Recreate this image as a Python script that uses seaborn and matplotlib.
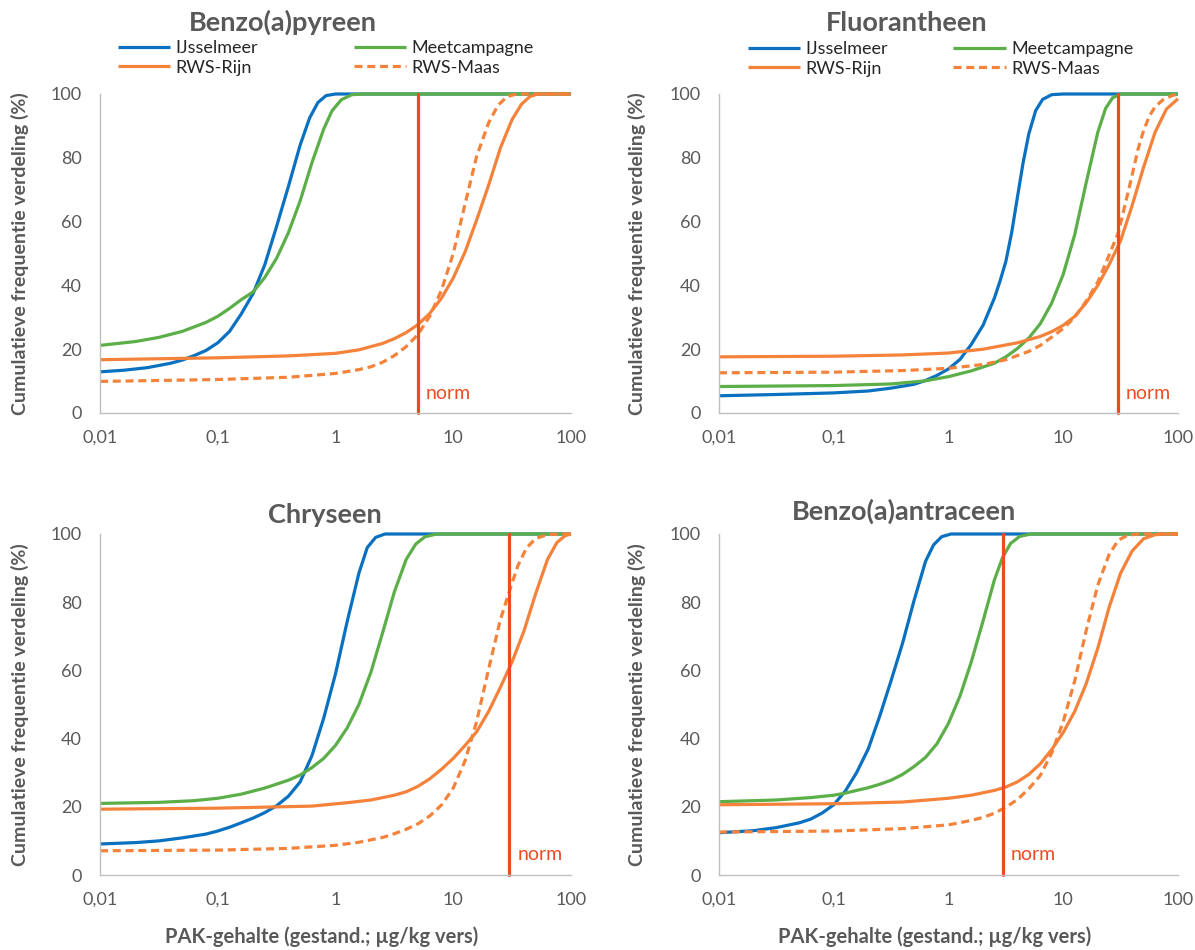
import pandas as pd
import matplotlib
matplotlib.use("Agg")
import matplotlib.pyplot as plt
from matplotlib.ticker import FixedLocator, FixedFormatter, NullLocator
import seaborn as sns

# titels, normen en reeksen
stoffen = ["Benzo(a)pyreen", "Fluorantheen", "Chryseen", "Benzo(a)antraceen"]
normen = [5, 30, 30, 3]
reeksen = ["IJsselmeer", "Meetcampagne", "RWS-Rijn", "RWS-Maas"]
x_ticks = [0.01, 0.1, 1, 10, 100]
x_tick_labels = ["0,01", "0,1", "1", "10", "100"]
y_ticks = [0, 20, 40, 60, 80, 100]

# Benzo(a)pyreen
bap_ijssel_x = [0.01, 0.0158, 0.0251, 0.0398, 0.0501, 0.0631, 0.0794, 0.1, 0.126, 0.158, 0.2, 0.251, 0.316, 0.398, 0.501, 0.603, 0.708, 0.832, 1.0, 100]
bap_ijssel_y = [12.9, 13.4, 14.2, 15.6, 16.6, 18.0, 19.6, 22.0, 25.6, 31.0, 37.5, 46.5, 58.5, 71.0, 84.0, 92.5, 97.3, 99.5, 100, 100]
bap_meet_x = [0.01, 0.02, 0.0316, 0.0501, 0.0794, 0.1, 0.126, 0.158, 0.2, 0.251, 0.316, 0.398, 0.501, 0.631, 0.794, 0.933, 1.12, 1.38, 1.78, 100]
bap_meet_y = [21.2, 22.4, 23.7, 25.6, 28.4, 30.3, 32.8, 35.5, 38.0, 42.5, 48.5, 56.5, 66.5, 78.5, 89.0, 94.7, 98.2, 99.8, 100, 100]
bap_rijn_x = [0.01, 0.1, 0.398, 1.0, 1.58, 2.51, 3.16, 3.98, 5.01, 6.31, 7.94, 10, 12.6, 15.8, 20.0, 25.1, 31.6, 38.0, 44.7, 52.5, 100]
bap_rijn_y = [16.7, 17.3, 17.9, 18.7, 19.8, 21.8, 23.3, 25.2, 27.7, 31.2, 36.0, 42.3, 50.5, 60.5, 71.5, 83.0, 92.0, 96.8, 99.2, 100, 100]
bap_maas_x = [0.01, 0.1, 0.398, 1.0, 1.58, 2.0, 2.51, 3.16, 3.98, 5.01, 6.31, 7.94, 10, 12.6, 15.8, 20.0, 24.0, 28.8, 34.7, 100]
bap_maas_y = [9.9, 10.5, 11.2, 12.4, 13.6, 14.5, 15.9, 18.0, 20.8, 24.6, 30.3, 38.5, 50.0, 65.5, 80.5, 91.0, 96.5, 99.2, 100, 100]

# Fluorantheen
fla_ijssel_x = [0.01, 0.0316, 0.1, 0.2, 0.316, 0.501, 0.631, 0.794, 1.0, 1.26, 1.58, 2.0, 2.51, 2.82, 3.16, 3.55, 3.98, 4.47, 5.01, 5.75, 6.61, 7.94, 10, 100]
fla_ijssel_y = [5.4, 5.8, 6.3, 6.9, 7.8, 9.0, 10.2, 11.8, 13.8, 16.8, 21.5, 27.5, 36.0, 41.5, 47.5, 56.5, 67.5, 78.5, 87.5, 94.8, 98.3, 99.8, 100, 100]
fla_meet_x = [0.01, 0.1, 0.316, 0.631, 1.0, 1.58, 2.51, 3.16, 3.98, 5.01, 6.31, 7.94, 10, 12.6, 15.8, 20.0, 23.4, 26.9, 31.6, 100]
fla_meet_y = [8.3, 8.6, 9.1, 10.1, 11.4, 13.2, 15.6, 17.6, 20.2, 23.5, 28.0, 34.5, 43.5, 56.0, 72.0, 88.0, 95.5, 98.8, 100, 100]
fla_rijn_x = [0.01, 0.1, 0.398, 1.0, 2.0, 3.98, 6.31, 7.94, 10, 12.6, 15.8, 20.0, 25.1, 31.6, 39.8, 50.1, 63.1, 79.4, 100]
fla_rijn_y = [17.6, 17.8, 18.2, 18.8, 20.0, 22.0, 24.0, 25.5, 27.5, 30.3, 34.5, 40.0, 46.5, 54.0, 65.0, 77.0, 88.0, 95.3, 98.5]
fla_maas_x = [0.01, 0.1, 0.398, 1.0, 2.0, 3.16, 5.01, 6.31, 7.94, 10, 12.6, 15.8, 20.0, 25.1, 30.2, 35.5, 39.8, 44.7, 50.1, 56.2, 63.1, 74.1, 89.1, 100]
fla_maas_y = [12.6, 12.8, 13.3, 14.0, 15.2, 16.7, 19.3, 21.2, 23.8, 26.5, 30.0, 35.0, 41.0, 49.5, 56.5, 67.0, 74.5, 82.5, 88.5, 93.0, 96.0, 98.2, 99.5, 100]

# Chryseen
chr_ijssel_x = [0.01, 0.02, 0.0316, 0.0501, 0.0794, 0.1, 0.126, 0.158, 0.2, 0.251, 0.316, 0.398, 0.501, 0.631, 0.794, 1.0, 1.26, 1.58, 1.86, 2.19, 2.63, 100]
chr_ijssel_y = [9.1, 9.5, 10.0, 10.9, 12.0, 12.9, 14.0, 15.3, 16.7, 18.3, 20.3, 23.1, 27.3, 35.0, 46.0, 59.0, 74.5, 88.5, 96.0, 99.0, 100, 100]
chr_meet_x = [0.01, 0.0316, 0.0631, 0.1, 0.158, 0.251, 0.398, 0.501, 0.631, 0.794, 1.0, 1.26, 1.58, 2.0, 2.51, 3.16, 3.98, 4.79, 5.75, 7.24, 100]
chr_meet_y = [21.0, 21.3, 21.8, 22.5, 23.7, 25.5, 27.8, 29.3, 31.5, 34.2, 38.0, 43.2, 50.0, 59.5, 71.0, 83.0, 92.5, 97.0, 99.2, 100, 100]
chr_rijn_x = [0.01, 0.1, 0.631, 1.26, 2.0, 3.16, 3.98, 5.01, 6.31, 7.94, 10, 12.6, 15.8, 20.0, 25.1, 31.6, 39.8, 50.1, 63.1, 75.9, 89.1, 100]
chr_rijn_y = [19.3, 19.6, 20.2, 21.2, 22.0, 23.4, 24.4, 26.0, 28.2, 31.0, 34.2, 38.0, 42.0, 48.0, 55.0, 62.5, 71.5, 82.5, 92.5, 97.5, 99.5, 100]
chr_maas_x = [0.01, 0.1, 0.398, 1.0, 1.58, 2.51, 3.16, 3.98, 5.01, 6.31, 7.94, 10, 12.6, 15.8, 20.0, 25.1, 30.2, 35.5, 41.7, 50.1, 63.1, 79.4, 100]
chr_maas_y = [7.1, 7.3, 7.8, 8.7, 9.6, 11.0, 12.1, 13.4, 15.0, 17.3, 20.5, 25.5, 33.5, 45.0, 60.5, 74.8, 83.6, 90.8, 95.8, 98.7, 99.8, 100, 100]

# Benzo(a)antraceen
baa_ijssel_x = [0.01, 0.02, 0.0316, 0.0501, 0.0631, 0.0794, 0.1, 0.126, 0.158, 0.2, 0.251, 0.316, 0.398, 0.501, 0.631, 0.741, 0.871, 1.05, 100]
baa_ijssel_y = [12.4, 13.0, 13.9, 15.3, 16.4, 18.2, 20.6, 24.6, 30.0, 37.0, 46.5, 57.0, 68.0, 80.5, 92.0, 96.8, 99.2, 100, 100]
baa_meet_x = [0.01, 0.0316, 0.0631, 0.1, 0.126, 0.158, 0.2, 0.251, 0.316, 0.398, 0.501, 0.631, 0.794, 1.0, 1.26, 1.58, 2.0, 2.51, 2.95, 3.47, 4.17, 5.25, 100]
baa_meet_y = [21.5, 22.0, 22.7, 23.4, 24.0, 24.8, 25.6, 26.6, 27.8, 29.5, 31.8, 34.5, 38.5, 44.5, 52.5, 62.5, 74.5, 86.5, 93.0, 97.2, 99.3, 100, 100]
baa_rijn_x = [0.01, 0.1, 0.398, 1.0, 1.58, 2.51, 3.16, 3.98, 5.01, 6.31, 7.94, 10, 12.6, 15.8, 20.0, 25.1, 31.6, 39.8, 50.1, 63.1, 79.4, 100]
baa_rijn_y = [20.6, 20.9, 21.4, 22.5, 23.4, 24.8, 25.8, 27.3, 29.5, 32.6, 36.8, 41.8, 48.0, 56.0, 66.5, 78.5, 88.5, 95.0, 98.6, 99.8, 100, 100]
baa_maas_x = [0.01, 0.1, 0.398, 1.0, 1.58, 2.0, 2.51, 3.16, 3.98, 5.01, 6.31, 7.94, 10, 12.6, 15.8, 20.0, 25.1, 30.2, 36.3, 44.7, 100]
baa_maas_y = [12.6, 12.9, 13.6, 14.7, 16.0, 16.9, 18.1, 19.9, 22.1, 25.3, 29.2, 35.8, 45.0, 57.0, 71.5, 85.0, 94.0, 98.2, 99.6, 100, 100]

curves = {
    "Benzo(a)pyreen": [(bap_ijssel_x, bap_ijssel_y), (bap_meet_x, bap_meet_y), (bap_rijn_x, bap_rijn_y), (bap_maas_x, bap_maas_y)],
    "Fluorantheen": [(fla_ijssel_x, fla_ijssel_y), (fla_meet_x, fla_meet_y), (fla_rijn_x, fla_rijn_y), (fla_maas_x, fla_maas_y)],
    "Chryseen": [(chr_ijssel_x, chr_ijssel_y), (chr_meet_x, chr_meet_y), (chr_rijn_x, chr_rijn_y), (chr_maas_x, chr_maas_y)],
    "Benzo(a)antraceen": [(baa_ijssel_x, baa_ijssel_y), (baa_meet_x, baa_meet_y), (baa_rijn_x, baa_rijn_y), (baa_maas_x, baa_maas_y)],
}

rows = []
for stof in stoffen:
    for reeks, (xs, ys) in zip(reeksen, curves[stof]):
        for x, y in zip(xs, ys):
            rows.append({"stof": stof, "reeks": reeks, "x": x, "y": y})
df = pd.DataFrame(rows)

sns.set_style("white")
plt.rcParams["font.family"] = ["Lato", "DejaVu Sans"]

kleuren = {"IJsselmeer": "#0A70C0", "Meetcampagne": "#5CAF48", "RWS-Rijn": "#F5823A", "RWS-Maas": "#F5823A"}
strepen = {"IJsselmeer": "", "Meetcampagne": "", "RWS-Rijn": "", "RWS-Maas": (2.5, 1.5)}
grijs = "#595959"
as_grijs = "#BFBFBF"
norm_kleur = "#EE4B23"

W, H = 1195, 950
fig = plt.figure(figsize=(W / 100, H / 100), dpi=100)

# posities in pixels: links, boven, breedte, hoogte
panelen = [
    (100, 94, 471, 319),
    (719, 94, 459, 319),
    (100, 534, 471, 341),
    (719, 534, 459, 341),
]
titel_pos = [(283, 22), (907, 23), (325, 515), (904, 511)]
ylabel_x = [20, 637, 20, 637]
legend_pos = [(118, 40, 5.3), (748, 41, 3.6)]

for i, stof in enumerate(stoffen):
    l, t, w, h = panelen[i]
    ax = fig.add_axes([l / W, 1 - (t + h) / H, w / W, h / H])
    sub = df[df["stof"] == stof]
    sns.lineplot(data=sub, x="x", y="y", hue="reeks", style="reeks",
                 hue_order=reeksen, style_order=reeksen,
                 palette=kleuren, dashes=strepen, estimator=None, sort=False,
                 lw=2.3, ax=ax, legend=False)
    ax.set_xscale("log")
    ax.set_xlim(0.01, 100)
    ax.set_ylim(0, 100)
    for line in ax.lines:
        line.set_clip_on(False)
        line.set_solid_capstyle("butt")
        line.set_solid_joinstyle("round")

    norm = normen[i]
    ax.plot([norm, norm], [0, 100], color=norm_kleur, lw=2.3, clip_on=False)
    ax.text(norm * 1.17, 6, "norm", color=norm_kleur, fontsize=14,
            ha="left", va="center")

    ax.xaxis.set_major_locator(FixedLocator(x_ticks))
    ax.xaxis.set_major_formatter(FixedFormatter(x_tick_labels))
    ax.xaxis.set_minor_locator(NullLocator())
    ax.set_yticks(y_ticks)
    ax.tick_params(axis="both", direction="out", length=4, width=1,
                   color=as_grijs, labelcolor=grijs, labelsize=13)
    ax.tick_params(axis="y", pad=9)
    ax.tick_params(axis="x", pad=8)
    for side in ["top", "right"]:
        ax.spines[side].set_visible(False)
    for side in ["left", "bottom"]:
        ax.spines[side].set_color(as_grijs)
        ax.spines[side].set_linewidth(1)
    ax.set_xlabel("")
    ax.set_ylabel("")

    tx, ty = titel_pos[i]
    fig.text(tx / W, 1 - ty / H, stof, fontsize=19.5, fontweight="bold",
             color=grijs, ha="center", va="center")
    fig.text(ylabel_x[i] / W, 1 - (t + h / 2) / H,
             "Cumulatieve frequentie verdeling (%)", rotation=90,
             fontsize=14, fontweight="bold", color=grijs,
             ha="center", va="center")

    if i < 2:
        handles = ax.lines[:4]
        volgorde = [0, 2, 1, 3]
        lx, ly, cs = legend_pos[i]
        ax.legend([handles[k] for k in volgorde], [reeksen[k] for k in volgorde],
                  ncol=2, frameon=False, fontsize=13, loc="upper left",
                  bbox_to_anchor=(lx / W, 1 - ly / H), bbox_transform=fig.transFigure,
                  borderpad=0, borderaxespad=0, handlelength=2.9,
                  handletextpad=0.3, columnspacing=cs, labelspacing=0.2)
    else:
        fig.text((l + w / 2 - 14) / W, 1 - 937 / H,
                 "PAK-gehalte (gestand.; µg/kg vers)", fontsize=14.5,
                 fontweight="bold", color=grijs, ha="center", va="center")

fig.savefig("out.png", dpi=100)
